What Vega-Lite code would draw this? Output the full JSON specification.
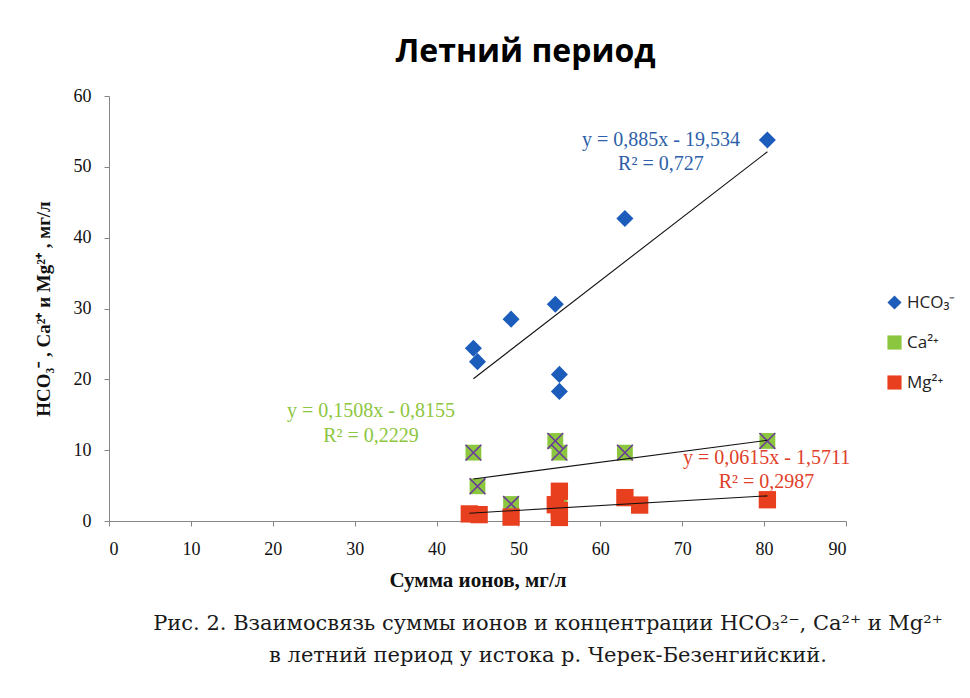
{
  "$schema": "https://vega.github.io/schema/vega-lite/v6.json",
  "padding": {"left": 34, "top": 36, "right": 5, "bottom": 5},
  "background": "white",
  "datasets": {
    "ions": [
      {"ion": "HCO₃⁻", "x": 80.4, "y": 53.8},
      {"ion": "HCO₃⁻", "x": 63.0, "y": 42.7},
      {"ion": "HCO₃⁻", "x": 54.5, "y": 30.6},
      {"ion": "HCO₃⁻", "x": 49.1, "y": 28.5},
      {"ion": "HCO₃⁻", "x": 44.5, "y": 24.4},
      {"ion": "HCO₃⁻", "x": 45.0, "y": 22.5},
      {"ion": "HCO₃⁻", "x": 55.0, "y": 20.7},
      {"ion": "HCO₃⁻", "x": 55.0, "y": 18.3},
      {"ion": "Ca²⁺", "x": 44.5, "y": 9.65},
      {"ion": "Ca²⁺", "x": 45.0, "y": 4.9},
      {"ion": "Ca²⁺", "x": 49.1, "y": 2.4},
      {"ion": "Ca²⁺", "x": 54.5, "y": 11.3},
      {"ion": "Ca²⁺", "x": 55.0, "y": 9.65},
      {"ion": "Ca²⁺", "x": 55.0, "y": 2.4},
      {"ion": "Ca²⁺", "x": 63.0, "y": 9.65},
      {"ion": "Ca²⁺", "x": 80.4, "y": 11.3},
      {"ion": "Mg²⁺", "x": 44.0, "y": 1.0},
      {"ion": "Mg²⁺", "x": 45.2, "y": 0.9},
      {"ion": "Mg²⁺", "x": 49.1, "y": 0.55},
      {"ion": "Mg²⁺", "x": 54.5, "y": 2.3},
      {"ion": "Mg²⁺", "x": 55.0, "y": 4.2},
      {"ion": "Mg²⁺", "x": 55.0, "y": 1.5},
      {"ion": "Mg²⁺", "x": 55.0, "y": 0.5},
      {"ion": "Mg²⁺", "x": 63.0, "y": 3.3},
      {"ion": "Mg²⁺", "x": 64.8, "y": 2.25},
      {"ion": "Mg²⁺", "x": 80.4, "y": 3.0}
    ],
    "eq": [
      {"ion": "HCO₃⁻", "x": 67.4, "y": 53.8, "label": "y = 0,885x - 19,534"},
      {"ion": "HCO₃⁻", "x": 67.4, "y": 50.4, "label": "R² = 0,727"},
      {"ion": "Ca²⁺", "x": 32.0, "y": 15.5, "label": "y = 0,1508x - 0,8155"},
      {"ion": "Ca²⁺", "x": 32.0, "y": 12.0, "label": "R² = 0,2229"},
      {"ion": "Mg²⁺", "x": 80.3, "y": 8.9, "label": "y = 0,0615x - 1,5711"},
      {"ion": "Mg²⁺", "x": 80.3, "y": 5.5, "label": "R² = 0,2987"}
    ]
  },
  "title": {
    "text": ["Рис. 2. Взаимосвязь суммы ионов и концентрации HCO₃²⁻, Ca²⁺ и Mg²⁺", "в летний период у истока р. Черек-Безенгийский."],
    "orient": "bottom",
    "anchor": "middle",
    "font": "DejaVu Serif",
    "fontSize": 21,
    "fontWeight": "normal",
    "color": "#1a1a1a",
    "lineHeight": 32,
    "offset": 23,
    "dx": 53
  },
  "vconcat": [
    {
      "title": {"text": "Летний период", "font": "Open Sans", "fontSize": 32, "fontWeight": "bold", "color": "#000000", "anchor": "middle", "dx": 48, "offset": 18},
      "width": 737,
      "height": 425,
      "data": {"name": "ions"},
      "encoding": {
        "x": {"field": "x", "type": "quantitative", "scale": {"domain": [0, 90], "nice": false},
              "axis": {"title": "Сумма ионов, мг/л", "values": [0, 10, 20, 30, 40, 50, 60, 70, 80, 90], "labelPadding": 14, "titlePadding": 11, "titleFontSize": 21}},
        "y": {"field": "y", "type": "quantitative", "scale": {"domain": [0, 60], "nice": false},
              "axis": {"title": "HCO₃⁻ , Ca²⁺ и Mg²⁺ , мг/л", "values": [0, 10, 20, 30, 40, 50, 60], "labelPadding": 13, "titlePadding": 20, "titleFontSize": 19}}
      },
      "layer": [
        {
          "transform": [{"filter": "datum.ion === 'HCO₃⁻'"}],
          "mark": {"type": "point", "filled": true, "opacity": 1, "size": 290},
          "encoding": {
            "fill": {"field": "ion", "type": "nominal", "title": null,
                     "scale": {"domain": ["HCO₃⁻", "Ca²⁺", "Mg²⁺"], "range": ["#1c5cba", "#8cc63f", "#e8401e"]},
                     "legend": {"orient": "none", "legendX": 777, "legendY": 198, "symbolSize": 200, "rowPadding": 19,
                                "labelFont": "Open Sans", "labelFontSize": 17, "labelColor": "#222222",
                                "encode": {"symbols": {"update": {
                                  "stroke": {"signal": "datum.value === 'Ca²⁺' ? '#6a3d9a' : 'transparent'"},
                                  "strokeWidth": {"value": 1.2},
                                  "shape": {"signal": "datum.value === 'Ca²⁺' ? 'M-1,-1H1V1H-1Z M-1,-1L1,1 M-1,1L1,-1' : (datum.value === 'HCO₃⁻' ? 'diamond' : 'square')"}
                                }}}}},
            "shape": {"field": "ion", "type": "nominal", "title": null,
                      "scale": {"domain": ["HCO₃⁻", "Ca²⁺", "Mg²⁺"], "range": ["diamond", "square", "square"]}}
          }
        },
        {
          "transform": [{"filter": "datum.ion === 'Ca²⁺'"}],
          "mark": {"type": "point", "filled": true, "opacity": 1, "size": 250},
          "encoding": {
            "fill": {"field": "ion", "type": "nominal", "title": null},
            "shape": {"field": "ion", "type": "nominal", "title": null}
          }
        },
        {
          "transform": [{"filter": "datum.ion === 'Ca²⁺'"}],
          "mark": {"type": "point", "filled": false, "opacity": 1, "size": 250, "shape": "M-1,-1L1,1M-1,1L1,-1", "stroke": "#6a3d9a", "strokeWidth": 1.6}
        },
        {
          "transform": [{"filter": "datum.ion === 'Mg²⁺'"}],
          "mark": {"type": "point", "filled": true, "opacity": 1, "size": 300},
          "encoding": {
            "fill": {"field": "ion", "type": "nominal", "title": null},
            "shape": {"field": "ion", "type": "nominal", "title": null}
          }
        },
        {
          "transform": [{"regression": "y", "on": "x", "groupby": ["ion"]}],
          "mark": {"type": "line", "color": "#111111", "strokeWidth": 1.1},
          "encoding": {"detail": {"field": "ion", "type": "nominal"}}
        },
        {
          "data": {"name": "eq"},
          "mark": {"type": "text", "font": "Liberation Serif", "fontSize": 20, "align": "center", "baseline": "middle"},
          "encoding": {
            "text": {"field": "label"},
            "color": {"field": "ion", "type": "nominal",
                      "scale": {"domain": ["HCO₃⁻", "Ca²⁺", "Mg²⁺"], "range": ["#2d5faa", "#8dc63f", "#e0402a"]},
                      "legend": null}
          }
        }
      ]
    }
  ],
  "config": {
    "view": {"stroke": null},
    "axis": {"domainColor": "#868686", "tickColor": "#868686", "tickSize": 5, "grid": false,
             "labelFont": "Liberation Serif", "labelFontSize": 18, "labelColor": "#111111",
             "titleFont": "Liberation Serif", "titleFontSize": 17, "titleFontWeight": "bold", "titleColor": "#111111"}
  }
}
